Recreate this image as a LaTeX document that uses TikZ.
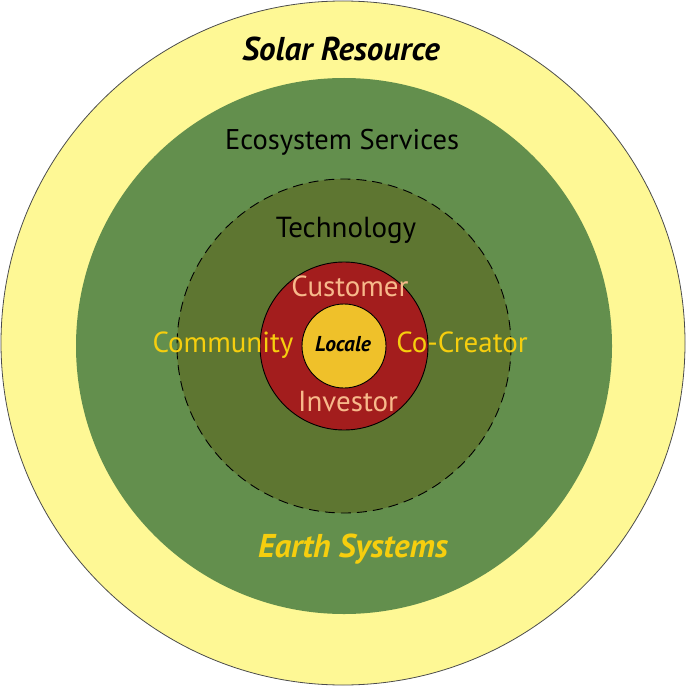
\documentclass[tikz,border=0pt]{standalone}
\usepackage{fontspec}
\setmainfont{PT Sans}
\begin{document}
\begin{tikzpicture}[x=1pt,y=-1pt,
  lbl/.style={inner sep=0pt, anchor=center},
  ring/.style={circle, inner sep=0pt, minimum size=#1}]
\definecolor{paleY}{HTML}{FEF895}
\definecolor{greenA}{HTML}{638F4D}
\definecolor{greenB}{HTML}{5E7631}
\definecolor{redC}{HTML}{A31D1D}
\definecolor{goldC}{HTML}{EFC12A}
\definecolor{goldT}{HTML}{F6CE0E}
\definecolor{salmon}{HTML}{F7B98B}
\useasboundingbox (0,0) rectangle (687,687);
\node[ring=684pt, fill=paleY, draw=black!70, line width=0.8pt] (solar) at (343,343) {};
\node[ring=536pt, fill=greenA] (eco) at (344,346) {};
\node[ring=334pt, fill=greenB, draw=black, dash pattern=on 10pt off 6pt, line width=0.9pt] (tech) at (344,346) {};
\node[ring=168pt, fill=redC, draw=black, line width=0.9pt] (red) at (344,346) {};
\node[ring=84pt, fill=goldC, draw=black, line width=0.9pt] (loc) at (344,346) {};
\node[lbl, font=\fontsize{33}{36}\selectfont\bfseries\itshape] (t1) at (341,49) {Solar Resource};
\node[lbl, font=\fontsize{28.5}{32}\selectfont] (t2) at (342,142) {Ecosystem Services};
\node[lbl, font=\fontsize{29}{32}\selectfont] (t3) at (346,230) {Technology};
\node[lbl, font=\fontsize{29}{32}\selectfont, text=salmon] (t4) at (350,286) {Customer};
\node[lbl, font=\fontsize{29}{32}\selectfont, text=goldT] (t5) at (223,345) {Community};
\node[lbl, font=\fontsize{29}{32}\selectfont, text=goldT] (t6) at (462,342) {Co-Creator};
\node[lbl, font=\fontsize{21.5}{24}\selectfont\bfseries\itshape] (t7) at (343,344) {Locale};
\node[lbl, font=\fontsize{29}{32}\selectfont, text=salmon] (t8) at (348,402) {Investor};
\node[lbl, font=\fontsize{33}{36}\selectfont\bfseries\itshape, text=goldT] (t9) at (353,549) {Earth Systems};
\end{tikzpicture}
\end{document}
